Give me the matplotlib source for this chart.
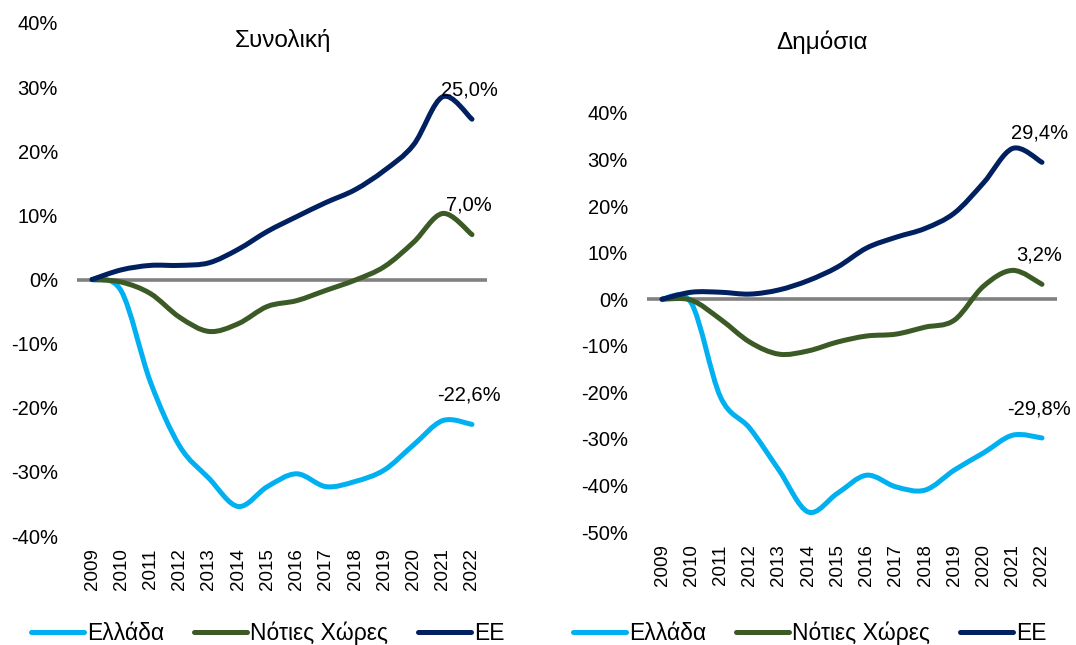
import matplotlib
matplotlib.use("Agg")
import matplotlib.pyplot as plt
from matplotlib.path import Path
from matplotlib.patches import PathPatch
from matplotlib.lines import Line2D
from matplotlib.ticker import FuncFormatter

plt.rcParams['font.family'] = ['Liberation Sans', 'DejaVu Sans']

years = list(range(2009, 2023))
series_names = ["Ελλάδα", "Νότιες Χώρες", "ΕΕ"]
colors = ["#00B0F0", "#3B5A26", "#002060"]

# Left panel: Συνολική
total_greece = [0, -1.8, -16.0, -26.0, -31.0, -35.4, -32.3, -30.3, -32.3, -31.5, -29.7, -25.8, -22.0, -22.6]
total_south = [0, -0.4, -2.2, -5.9, -8.1, -6.9, -4.2, -3.3, -1.7, -0.1, 2.0, 5.8, 10.3, 7.0]
total_eu = [0, 1.5, 2.2, 2.2, 2.6, 4.7, 7.5, 9.8, 12.0, 14.0, 17.0, 21.0, 28.5, 25.0]
total_labels = ["-22,6%", "7,0%", "25,0%"]

# Right panel: Δημόσια
public_greece = [0, -0.8, -21.0, -27.7, -36.7, -45.7, -41.7, -37.8, -40.3, -41.0, -36.7, -33.0, -29.2, -29.8]
public_south = [0, -0.2, -4.3, -9.2, -11.8, -11.1, -9.2, -7.9, -7.5, -6.0, -4.5, 2.8, 6.2, 3.2]
public_eu = [0, 1.5, 1.5, 1.1, 2.0, 4.0, 6.9, 11.0, 13.3, 15.2, 18.5, 25.0, 32.4, 29.4]
public_labels = ["-29,8%", "3,2%", "29,4%"]

W, H = 1076, 645
fig = plt.figure(figsize=(W / 100, H / 100), dpi=100)


def smooth_path(xs, ys):
    n = len(xs)
    verts = [(xs[0], ys[0])]
    codes = [Path.MOVETO]
    for i in range(n - 1):
        x0, y0 = (xs[i - 1], ys[i - 1]) if i > 0 else (xs[i], ys[i])
        x1, y1 = xs[i], ys[i]
        x2, y2 = xs[i + 1], ys[i + 1]
        x3, y3 = (xs[i + 2], ys[i + 2]) if i + 2 < n else (xs[i + 1], ys[i + 1])
        c1 = (x1 + (x2 - x0) / 6.0, y1 + (y2 - y0) / 6.0)
        c2 = (x2 - (x3 - x1) / 6.0, y2 - (y3 - y1) / 6.0)
        verts += [c1, c2, (x2, y2)]
        codes += [Path.CURVE4] * 3
    return Path(verts, codes)


def panel(rect, title, title_xy, data, labels, ylim, yticks):
    ax = fig.add_axes(rect)
    ax.set_xlim(2008.5, 2022.5)
    ax.set_ylim(*ylim)
    for s in ax.spines.values():
        s.set_visible(False)
    ax.axhline(0, color="#808080", lw=2.6, zorder=1)
    for vals, col, lab in zip(data, colors, labels):
        p = PathPatch(smooth_path(years, vals), facecolor="none", edgecolor=col,
                      lw=3.6, capstyle="round", joinstyle="round", zorder=3)
        ax.add_patch(p)
        ax.annotate(lab, xy=(years[-1], vals[-1]), xytext=(-2, 21),
                    textcoords="offset points", ha="center", va="center",
                    fontsize=14.5)
    ax.set_xticks(years)
    ax.set_xticklabels([str(y) for y in years], rotation=90, fontsize=13.5)
    ax.set_yticks(yticks)
    ax.yaxis.set_major_formatter(FuncFormatter(lambda v, p: f"{v:.0f}%"))
    ax.tick_params(axis="y", length=0, pad=14, labelsize=14.5)
    ax.tick_params(axis="x", length=0, pad=9)
    fig.text(title_xy[0] / W, 1 - title_xy[1] / H, title, ha="center", va="center", fontsize=17.5)
    handles = [Line2D([0], [0], color=c, lw=3.6, solid_capstyle="round") for c in colors]
    return ax, handles


axL, hL = panel([77.4 / W, 109 / H, 409.2 / W, 513 / H], "Συνολική", (283, 40),
                [total_greece, total_south, total_eu], total_labels, (-40, 40),
                list(range(-40, 41, 10)))
axR, hR = panel([647.4 / W, 113 / H, 409.2 / W, 419 / H], "Δημόσια", (822, 42),
                [public_greece, public_south, public_eu], public_labels, (-50, 40),
                list(range(-50, 41, 10)))

for h, cx in [(hL, 268), (hR, 810)]:
    fig.legend(h, series_names, loc="center", bbox_to_anchor=(cx / W, 1 - 633 / H),
               ncol=3, frameon=False, fontsize=16.5, handlelength=2.3,
               handletextpad=0.15, columnspacing=1.3, borderpad=0)

fig.savefig("out.png", dpi=100)
